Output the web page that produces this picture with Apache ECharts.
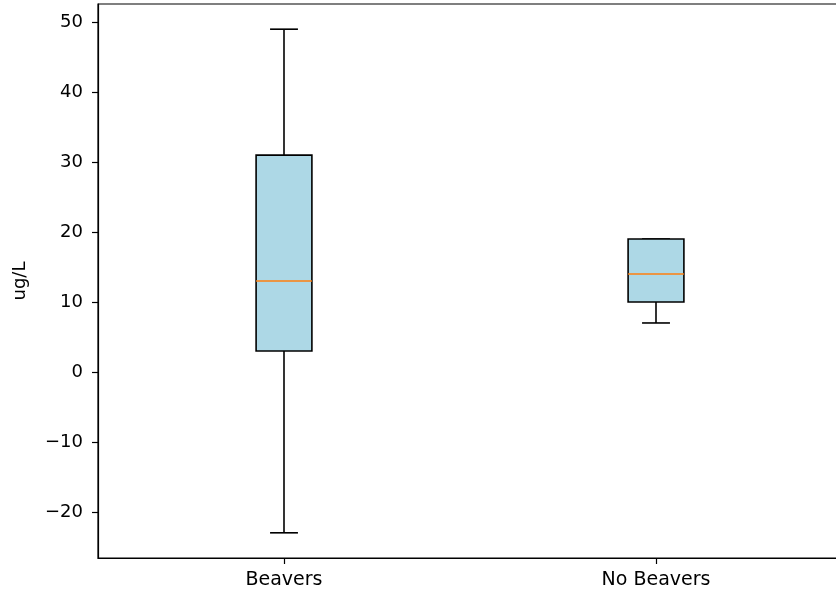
<!DOCTYPE html>
<html>
<head>
<meta charset="utf-8">
<script src="https://cdn.jsdelivr.net/npm/echarts@6/dist/echarts.min.js"></script>
<style>
  html, body { margin: 0; padding: 0; background: #fff; }
  #chart { width: 836px; height: 592px; }
</style>
</head>
<body>
<div id="chart"></div>
<script>
// Groups on the x axis
const categories = ['Beavers', 'No Beavers'];
// Five-number summaries per group: [lower whisker, Q1, median, Q3, upper whisker]
const beaversStats = [-23, 3, 13, 31, 49];
const noBeaversStats = [7, 10, 14, 19, 19];
// Y axis tick values
const yTicks = [-20, -10, 0, 10, 20, 30, 40, 50];
const yLimits = [-26.6, 52.6];

const summaries = [beaversStats, noBeaversStats];
const seriesData = summaries.map((s, i) => [i].concat(s));

const FONT = 'DejaVu Sans';
const BOX_FRAC = 0.15;   // box width as a share of category spacing
const CAP_FRAC = 0.5;    // cap width relative to box width
const LW = 1.6;

function renderBox(params, api) {
  const x = api.value(0);
  const lo = api.coord([x, api.value(1)]);
  const q1 = api.coord([x, api.value(2)]);
  const md = api.coord([x, api.value(3)]);
  const q3 = api.coord([x, api.value(4)]);
  const hi = api.coord([x, api.value(5)]);
  const band = api.size([1, 0])[0];
  const hw = band * BOX_FRAC / 2;
  const cw = hw * CAP_FRAC;
  const cx = lo[0];
  const line = (x1, y1, x2, y2, color) => ({
    type: 'line',
    shape: { x1, y1, x2, y2 },
    style: { stroke: color || '#000', lineWidth: LW }
  });
  return {
    type: 'group',
    children: [
      line(cx, q1[1], cx, lo[1]),
      line(cx, q3[1], cx, hi[1]),
      line(cx - cw, lo[1], cx + cw, lo[1]),
      line(cx - cw, hi[1], cx + cw, hi[1]),
      {
        type: 'rect',
        shape: { x: cx - hw, y: q3[1], width: hw * 2, height: q1[1] - q3[1] },
        style: { fill: '#add8e6', stroke: '#000', lineWidth: LW }
      },
      line(cx - hw, md[1], cx + hw, md[1], '#ff7f0e')
    ]
  };
}

const chart = echarts.init(document.getElementById('chart'), null, { renderer: 'canvas' });
chart.setOption({
  animation: false,
  backgroundColor: '#fff',
  grid: {
    left: 98, top: 4, width: 744, height: 554,
    outerBoundsMode: 'none',
    containLabel: false,
    show: true, borderColor: '#000', borderWidth: 1.2, backgroundColor: 'transparent'
  },
  xAxis: {
    type: 'category',
    data: categories,
    boundaryGap: true,
    axisLine: { show: true, onZero: false, lineStyle: { color: '#000', width: 1.2 } },
    axisTick: { show: true, alignWithLabel: true, length: 6, lineStyle: { color: '#000', width: 1.2 } },
    axisLabel: { color: '#000', fontFamily: FONT, fontSize: 19, margin: 13 },
    splitLine: { show: false }
  },
  yAxis: {
    type: 'value',
    min: yLimits[0],
    max: yLimits[1],
    name: 'ug/L',
    nameLocation: 'middle',
    nameRotate: 90,
    nameGap: 69,
    nameTextStyle: { color: '#000', fontFamily: FONT, fontSize: 18 },
    axisLine: { show: true, onZero: false, lineStyle: { color: '#000', width: 1.2 } },
    axisTick: { show: true, length: 6, customValues: yTicks, lineStyle: { color: '#000', width: 1.2 } },
    axisLabel: {
      color: '#000', fontFamily: FONT, fontSize: 18, margin: 15,
      customValues: yTicks,
      formatter: v => String(v).replace('-', '\u2212')
    },
    splitLine: { show: false }
  },
  series: [{
    type: 'custom',
    renderItem: renderBox,
    data: seriesData,
    encode: { x: 0, y: [1, 2, 3, 4, 5] },
    clip: false
  }]
});
</script>
</body>
</html>
